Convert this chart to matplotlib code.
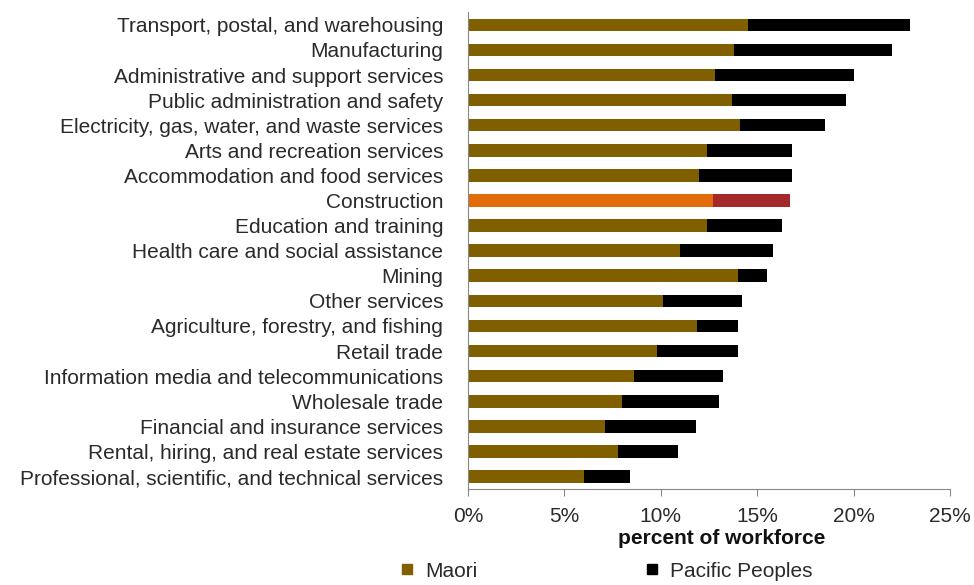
import matplotlib
matplotlib.use("Agg")
import matplotlib.pyplot as plt
from matplotlib.ticker import FuncFormatter
from matplotlib.lines import Line2D

plt.rcParams['font.family'] = ['Liberation Sans', 'DejaVu Sans']

industries = [
    "Transport, postal, and warehousing",
    "Manufacturing",
    "Administrative and support services",
    "Public administration and safety",
    "Electricity, gas, water, and waste services",
    "Arts and recreation services",
    "Accommodation and food services",
    "Construction",
    "Education and training",
    "Health care and social assistance",
    "Mining",
    "Other services",
    "Agriculture, forestry, and fishing",
    "Retail trade",
    "Information media and telecommunications",
    "Wholesale trade",
    "Financial and insurance services",
    "Rental, hiring, and real estate services",
    "Professional, scientific, and technical services",
]
maori = [14.5, 13.8, 12.8, 13.7, 14.1, 12.4, 12.0, 12.7, 12.4, 11.0,
         14.0, 10.1, 11.9, 9.8, 8.6, 8.0, 7.1, 7.8, 6.0]
pacific = [8.4, 8.2, 7.2, 5.9, 4.4, 4.4, 4.8, 4.0, 3.9, 4.8,
           1.5, 4.1, 2.1, 4.2, 4.6, 5.0, 4.7, 3.1, 2.4]
highlight = "Construction"

maori_col = "#7F5F00"
pacific_col = "#000000"
hi_maori_col = "#E36C0A"
hi_pacific_col = "#A5282A"
text_col = "#2a2a2a"
fs = 15

fig = plt.figure(figsize=(9.74, 5.85), dpi=100)
ax = fig.add_axes([0.4805, 0.164, 0.4949, 0.815])

pos = list(range(len(industries)))
c1 = [hi_maori_col if n == highlight else maori_col for n in industries]
c2 = [hi_pacific_col if n == highlight else pacific_col for n in industries]
ax.barh(pos, maori, height=0.5, color=c1)
ax.barh(pos, pacific, left=maori, height=0.5, color=c2)

ax.set_ylim(len(industries) - 0.5, -0.5)
ax.set_yticks(pos)
ax.set_yticklabels(industries, fontsize=fs, color=text_col)
ax.tick_params(axis='y', length=0, pad=18)

ax.set_xlim(0, 25)
ax.set_xticks([0, 5, 10, 15, 20, 25])
ax.xaxis.set_major_formatter(FuncFormatter(lambda v, p: f"{v:.0f}%"))
ax.tick_params(axis='x', labelsize=fs, labelcolor=text_col, color="#888888",
               length=5, pad=8)
ax.set_xlabel("percent of workforce", fontsize=fs, fontweight='bold',
              color="#111111")
ax.xaxis.set_label_coords(0.527, -0.083)

for s in ['top', 'right']:
    ax.spines[s].set_visible(False)
for s in ['left', 'bottom']:
    ax.spines[s].set_color("#888888")

handles = [
    Line2D([], [], marker='s', linestyle='none', color=maori_col, markersize=7),
    Line2D([], [], marker='s', linestyle='none', color=pacific_col, markersize=7),
]
fig.legend(handles, ["Maori", "Pacific Peoples"], loc='center left',
           bbox_to_anchor=(0.4117, 0.0239), ncol=2, frameon=False,
           fontsize=fs, columnspacing=8.1, handlelength=0.6,
           handletextpad=0.55, borderpad=0, borderaxespad=0,
           labelcolor=text_col)

fig.savefig("out.png", dpi=100)
